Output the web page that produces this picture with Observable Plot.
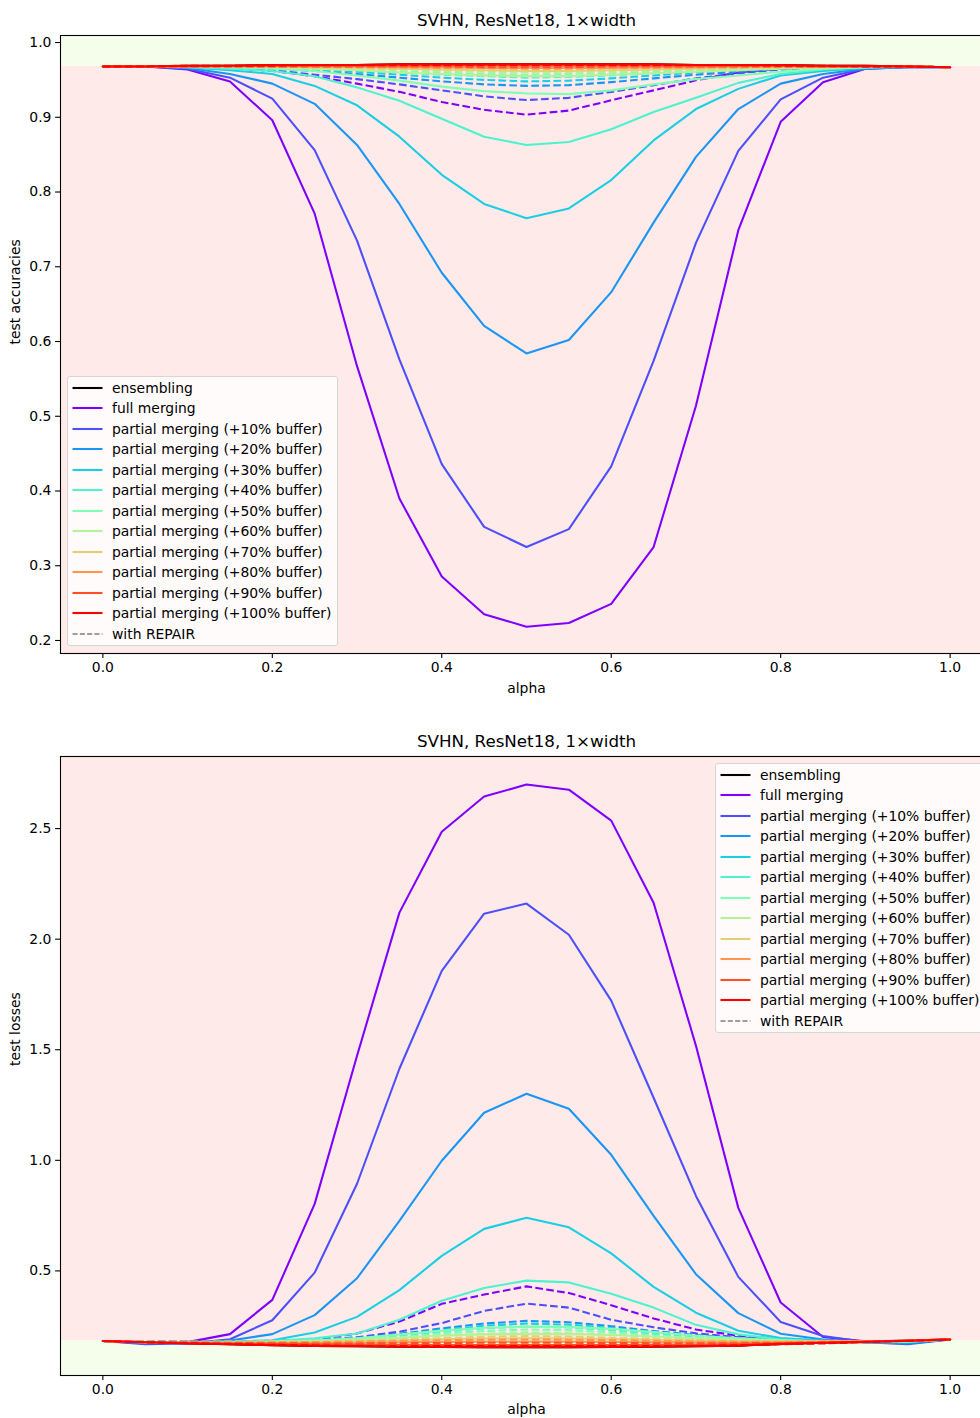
<!DOCTYPE html>
<html>
<head>
<meta charset="utf-8">
<script src="https://cdn.jsdelivr.net/npm/d3@7"></script>
<script src="https://cdn.jsdelivr.net/npm/@observablehq/plot@0.6"></script>
<style>
  html, body { margin: 0; padding: 0; background: #fff; overflow: hidden; }
  #page { position: relative; width: 980px; height: 1418px; overflow: hidden; font-family: "DejaVu Sans", sans-serif; }
  .panel { position: absolute; left: 0; width: 980px; height: 709px; }
  .legend { position: absolute; width: 271px; height: 270px; box-sizing: border-box;
            border: 1px solid #d6d6d6; border-radius: 3px; background: rgba(255,255,255,0.8); }
  .legend .row { position: absolute; left: 0; height: 20px; white-space: nowrap; font-size: 13.9px; color: #000; }
  .legend svg { position: absolute; left: 4px; top: 0; overflow: visible; }
  .legend .label { position: absolute; left: 44px; top: 0px; line-height: 20px; }
</style>
</head>
<body>
<div id="page"></div>
<script>
// interpolation coefficient between the two endpoint models
const alpha = [0, 0.05, 0.1, 0.15, 0.2, 0.25, 0.3, 0.35, 0.4, 0.45, 0.5, 0.55, 0.6, 0.65, 0.7, 0.75, 0.8, 0.85, 0.9, 0.95, 1.0];
const alphaTicks = [0, 0.2, 0.4, 0.6, 0.8, 1.0];
const accTicks = [0.2, 0.3, 0.4, 0.5, 0.6, 0.7, 0.8, 0.9, 1.0];
const lossTicks = [0.5, 1.0, 1.5, 2.0, 2.5];

const methodNames = ["full merging", "partial merging (+10% buffer)", "partial merging (+20% buffer)",
  "partial merging (+30% buffer)", "partial merging (+40% buffer)", "partial merging (+50% buffer)",
  "partial merging (+60% buffer)", "partial merging (+70% buffer)", "partial merging (+80% buffer)",
  "partial merging (+90% buffer)", "partial merging (+100% buffer)"];
// matplotlib "rainbow" colormap sampled at 11 evenly spaced points
const methodColors = ["#8000ff", "#4d4ffc", "#1a96f2", "#1acee3", "#4df2ce", "#80ffb4",
  "#b3f296", "#e6ce74", "#ff964f", "#ff4f28", "#ff0000"];

// endpoint-model level used for the shaded bands
const accEndpoint = 0.968;
const lossEndpoint = 0.185;

// ---- test accuracies ----
const accEnsembling = [0.968,0.968,0.969,0.969,0.970,0.970,0.970,0.971,0.971,0.971,0.971,0.971,0.971,0.971,0.970,0.970,0.970,0.969,0.969,0.968,0.967];
const accFull   = [0.968,0.968,0.964,0.948,0.896,0.771,0.567,0.390,0.2855,0.235,0.2185,0.2235,0.249,0.325,0.514,0.749,0.894,0.947,0.965,0.967,0.967];
const accBuf10  = [0.968,0.968,0.965,0.953,0.925,0.856,0.735,0.576,0.436,0.352,0.325,0.349,0.433,0.574,0.732,0.855,0.924,0.953,0.965,0.967,0.967];
const accBuf20  = [0.968,0.968,0.966,0.958,0.945,0.918,0.863,0.784,0.692,0.621,0.584,0.602,0.666,0.759,0.847,0.911,0.945,0.958,0.965,0.968,0.967];
const accBuf30  = [0.968,0.968,0.967,0.963,0.958,0.942,0.916,0.874,0.823,0.784,0.765,0.778,0.816,0.869,0.911,0.938,0.956,0.962,0.966,0.967,0.967];
const accBuf40  = [0.968,0.968,0.967,0.965,0.962,0.955,0.940,0.922,0.898,0.874,0.863,0.867,0.884,0.907,0.926,0.946,0.958,0.964,0.967,0.968,0.967];
const accBuf50  = [0.968,0.968,0.968,0.967,0.965,0.962,0.956,0.949,0.941,0.935,0.932,0.931,0.936,0.944,0.951,0.956,0.961,0.965,0.967,0.968,0.967];
const accBuf60  = [0.968,0.968,0.968,0.968,0.967,0.965,0.963,0.960,0.958,0.956,0.955,0.955,0.957,0.959,0.961,0.963,0.965,0.966,0.967,0.968,0.967];
const accBuf70  = [0.968,0.968,0.968,0.968,0.968,0.967,0.966,0.965,0.964,0.963,0.962,0.962,0.963,0.964,0.965,0.966,0.967,0.967,0.968,0.968,0.967];
const accBuf80  = [0.968,0.968,0.968,0.968,0.968,0.968,0.968,0.967,0.967,0.966,0.966,0.966,0.966,0.967,0.967,0.968,0.968,0.968,0.968,0.968,0.967];
const accBuf90  = [0.968,0.968,0.968,0.969,0.969,0.969,0.969,0.969,0.969,0.969,0.969,0.969,0.969,0.969,0.969,0.969,0.969,0.968,0.968,0.968,0.967];
const accBuf100 = [0.968,0.968,0.969,0.969,0.970,0.970,0.970,0.971,0.971,0.971,0.971,0.971,0.971,0.971,0.970,0.970,0.970,0.969,0.969,0.968,0.967];

const accFullRepair   = [0.968,0.968,0.967,0.966,0.962,0.955,0.945,0.934,0.9205,0.910,0.9035,0.909,0.9227,0.936,0.9495,0.960,0.965,0.967,0.968,0.968,0.967];
const accBuf10Repair  = [0.968,0.968,0.967,0.966,0.963,0.957,0.951,0.944,0.936,0.928,0.923,0.926,0.934,0.943,0.952,0.959,0.964,0.966,0.967,0.968,0.967];
const accBuf20Repair  = [0.968,0.968,0.968,0.967,0.965,0.962,0.958,0.953,0.948,0.944,0.942,0.943,0.947,0.952,0.957,0.961,0.965,0.967,0.968,0.968,0.967];
const accBuf30Repair  = [0.968,0.968,0.968,0.967,0.966,0.964,0.961,0.957,0.953,0.950,0.948,0.949,0.952,0.956,0.960,0.963,0.966,0.967,0.968,0.968,0.967];
const accBuf40Repair  = [0.968,0.968,0.968,0.967,0.966,0.965,0.963,0.960,0.957,0.955,0.953,0.954,0.956,0.959,0.962,0.965,0.966,0.967,0.968,0.968,0.967];
const accBuf50Repair  = [0.968,0.968,0.968,0.968,0.967,0.966,0.964,0.962,0.960,0.958,0.957,0.958,0.959,0.961,0.963,0.965,0.967,0.967,0.968,0.968,0.967];
const accBuf60Repair  = [0.968,0.968,0.968,0.968,0.967,0.966,0.965,0.964,0.962,0.961,0.960,0.960,0.961,0.963,0.964,0.966,0.967,0.968,0.968,0.968,0.967];
const accBuf70Repair  = [0.968,0.968,0.968,0.968,0.968,0.967,0.966,0.965,0.964,0.963,0.963,0.963,0.964,0.965,0.966,0.967,0.967,0.968,0.968,0.968,0.967];
const accBuf80Repair  = [0.968,0.968,0.968,0.968,0.968,0.968,0.967,0.967,0.966,0.966,0.965,0.965,0.966,0.966,0.967,0.967,0.968,0.968,0.968,0.968,0.967];
const accBuf90Repair  = [0.968,0.968,0.968,0.968,0.968,0.968,0.968,0.968,0.968,0.967,0.967,0.967,0.968,0.968,0.968,0.968,0.968,0.968,0.968,0.968,0.967];
const accBuf100Repair = [0.968,0.968,0.969,0.969,0.969,0.970,0.970,0.970,0.970,0.970,0.970,0.970,0.970,0.970,0.970,0.970,0.969,0.969,0.968,0.968,0.967];

// ---- test losses ----
const lossEnsembling = [0.183,0.177,0.172,0.168,0.164,0.161,0.159,0.157,0.156,0.155,0.155,0.155,0.156,0.157,0.159,0.162,0.170,0.175,0.179,0.184,0.190];
const lossFull   = [0.183,0.172,0.178,0.214,0.369,0.803,1.473,2.120,2.486,2.645,2.699,2.676,2.536,2.165,1.518,0.785,0.357,0.201,0.182,0.175,0.190];
const lossBuf10  = [0.183,0.168,0.172,0.191,0.277,0.492,0.894,1.414,1.857,2.115,2.161,2.020,1.722,1.283,0.839,0.473,0.269,0.206,0.178,0.168,0.190];
const lossBuf20  = [0.183,0.174,0.176,0.185,0.214,0.300,0.467,0.726,0.998,1.215,1.301,1.233,1.025,0.749,0.485,0.309,0.216,0.190,0.176,0.172,0.190];
const lossBuf30  = [0.183,0.177,0.177,0.180,0.186,0.221,0.292,0.413,0.568,0.690,0.740,0.697,0.579,0.428,0.311,0.229,0.196,0.185,0.179,0.178,0.190];
const lossBuf40  = [0.183,0.178,0.177,0.178,0.183,0.195,0.217,0.279,0.365,0.423,0.456,0.448,0.397,0.334,0.256,0.213,0.190,0.180,0.178,0.180,0.190];
const lossBuf50  = [0.183,0.178,0.177,0.177,0.179,0.185,0.195,0.212,0.230,0.243,0.248,0.247,0.238,0.224,0.207,0.195,0.186,0.180,0.179,0.181,0.190];
const lossBuf60  = [0.183,0.178,0.177,0.177,0.178,0.181,0.188,0.198,0.208,0.213,0.215,0.214,0.210,0.203,0.195,0.188,0.183,0.180,0.180,0.182,0.190];
const lossBuf70  = [0.183,0.178,0.177,0.176,0.176,0.178,0.181,0.186,0.191,0.194,0.195,0.194,0.192,0.189,0.185,0.182,0.181,0.180,0.181,0.183,0.190];
const lossBuf80  = [0.183,0.178,0.176,0.175,0.174,0.174,0.175,0.177,0.179,0.180,0.180,0.180,0.179,0.178,0.177,0.177,0.178,0.179,0.181,0.184,0.190];
const lossBuf90  = [0.183,0.178,0.175,0.172,0.170,0.168,0.167,0.166,0.165,0.165,0.165,0.165,0.165,0.166,0.167,0.169,0.172,0.175,0.179,0.184,0.190];
const lossBuf100 = [0.183,0.177,0.172,0.168,0.164,0.161,0.159,0.157,0.156,0.155,0.155,0.155,0.156,0.157,0.159,0.162,0.170,0.175,0.179,0.184,0.190];

const lossFullRepair   = [0.183,0.180,0.180,0.181,0.183,0.190,0.217,0.271,0.351,0.393,0.430,0.400,0.345,0.285,0.235,0.207,0.192,0.185,0.182,0.184,0.190];
const lossBuf10Repair  = [0.183,0.179,0.179,0.180,0.182,0.188,0.200,0.225,0.264,0.319,0.352,0.334,0.279,0.245,0.218,0.200,0.190,0.184,0.182,0.184,0.190];
const lossBuf20Repair  = [0.183,0.179,0.179,0.180,0.182,0.187,0.197,0.215,0.240,0.262,0.274,0.268,0.250,0.228,0.210,0.196,0.188,0.184,0.182,0.184,0.190];
const lossBuf30Repair  = [0.183,0.179,0.179,0.180,0.182,0.186,0.195,0.210,0.232,0.252,0.262,0.257,0.242,0.222,0.205,0.194,0.187,0.183,0.182,0.184,0.190];
const lossBuf40Repair  = [0.183,0.179,0.179,0.180,0.181,0.185,0.192,0.205,0.224,0.240,0.248,0.244,0.232,0.215,0.200,0.191,0.186,0.183,0.182,0.184,0.190];
const lossBuf50Repair  = [0.183,0.179,0.179,0.179,0.181,0.184,0.190,0.200,0.215,0.228,0.235,0.232,0.222,0.208,0.196,0.189,0.185,0.182,0.182,0.184,0.190];
const lossBuf60Repair  = [0.183,0.179,0.178,0.179,0.180,0.182,0.187,0.195,0.206,0.216,0.222,0.219,0.212,0.201,0.192,0.186,0.183,0.182,0.182,0.184,0.190];
const lossBuf70Repair  = [0.183,0.179,0.178,0.178,0.179,0.180,0.183,0.189,0.196,0.202,0.205,0.203,0.198,0.192,0.187,0.183,0.181,0.181,0.182,0.184,0.190];
const lossBuf80Repair  = [0.183,0.178,0.177,0.177,0.177,0.178,0.180,0.183,0.186,0.189,0.190,0.189,0.187,0.184,0.181,0.180,0.179,0.180,0.181,0.184,0.190];
const lossBuf90Repair  = [0.183,0.178,0.176,0.174,0.173,0.172,0.172,0.173,0.174,0.175,0.175,0.175,0.174,0.173,0.173,0.173,0.174,0.177,0.180,0.184,0.190];
const lossBuf100Repair = [0.183,0.177,0.173,0.169,0.166,0.163,0.161,0.160,0.160,0.160,0.160,0.160,0.160,0.160,0.161,0.164,0.168,0.172,0.178,0.184,0.190];

const accSolid  = [accFull, accBuf10, accBuf20, accBuf30, accBuf40, accBuf50, accBuf60, accBuf70, accBuf80, accBuf90, accBuf100];
const accRepair = [accFullRepair, accBuf10Repair, accBuf20Repair, accBuf30Repair, accBuf40Repair, accBuf50Repair,
                   accBuf60Repair, accBuf70Repair, accBuf80Repair, accBuf90Repair, accBuf100Repair];
const lossSolid  = [lossFull, lossBuf10, lossBuf20, lossBuf30, lossBuf40, lossBuf50, lossBuf60, lossBuf70, lossBuf80, lossBuf90, lossBuf100];
const lossRepair = [lossFullRepair, lossBuf10Repair, lossBuf20Repair, lossBuf30Repair, lossBuf40Repair, lossBuf50Repair,
                    lossBuf60Repair, lossBuf70Repair, lossBuf80Repair, lossBuf90Repair, lossBuf100Repair];

const PINK = "rgb(255,234,234)";
const GREEN = "rgb(245,254,235)";
const LW = 2.08;            // 1.5pt line width
const DASH = "7.7,3.3";     // "--" pattern at 1.5pt

const page = document.getElementById("page");

function seriesLine(values, opts) {
  return Plot.line(values, {x: (d, i) => alpha[i], y: d => d, strokeWidth: LW, ...opts});
}

function drawPanel(cfg) {
  const marks = [
    Plot.frame({fill: cfg.frameFill, stroke: null}),
    Plot.rect([cfg.base], {y1: cfg.yDomain[0], y2: d => d, fill: cfg.bandFill}),
    seriesLine(cfg.ens, {stroke: "black"})
  ];
  for (let i = 0; i < methodNames.length; i++) {
    marks.push(seriesLine(cfg.solid[i], {stroke: methodColors[i]}));
    marks.push(seriesLine(cfg.repair[i], {stroke: methodColors[i], strokeDasharray: DASH, strokeLinecap: "butt"}));
  }
  marks.push(
    Plot.axisX({ticks: alphaTicks, tickFormat: d3.format(".1f"), tickSize: 4.9, tickPadding: 4.2, strokeWidth: 1.1, label: null}),
    Plot.axisY({ticks: cfg.yTicks, tickFormat: d3.format(".1f"), tickSize: 4.9, tickPadding: 4.2, strokeWidth: 1.1, label: null}),
    Plot.text(["alpha"], {text: d => d, frameAnchor: "bottom", dy: cfg.xLabelDy, fontSize: 13.9}),
    Plot.text([cfg.yLabel], {text: d => d, frameAnchor: "left", dx: -45, rotate: -90, fontSize: 13.9}),
    Plot.text(["SVHN, ResNet18, 1×width"], {text: d => d, frameAnchor: "top", dy: -21, fontSize: 16.7}),
    Plot.frame({stroke: "black", strokeWidth: 1.1})
  );
  const chart = Plot.plot({
    width: 980, height: 709,
    marginLeft: 60, marginRight: -12, marginTop: cfg.marginTop, marginBottom: cfg.marginBottom,
    x: {domain: [-0.05, 1.05]},
    y: {domain: cfg.yDomain},
    style: {fontFamily: "DejaVu Sans", fontSize: "13.9px", color: "black", background: "transparent"},
    marks
  });
  const holder = document.createElement("div");
  holder.className = "panel";
  holder.style.top = cfg.top + "px";
  holder.appendChild(chart);
  holder.appendChild(makeLegend(cfg.legendLeft, cfg.legendTop));
  page.appendChild(holder);
}

function makeLegend(left, top) {
  const box = document.createElement("div");
  box.className = "legend";
  box.style.left = left + "px";
  box.style.top = top + "px";
  const entries = [{name: "ensembling", color: "black", width: LW, dash: null}]
    .concat(methodNames.map((n, i) => ({name: n, color: methodColors[i], width: LW, dash: null})))
    .concat([{name: "with REPAIR", color: "gray", width: 1.4, dash: "5.1,2.2"}]);
  entries.forEach((e, i) => {
    const row = document.createElement("div");
    row.className = "row";
    row.style.top = (0.8 + i * 20.5) + "px";
    row.style.width = "300px";
    row.innerHTML =
      `<svg width="32" height="20"><line x1="0.5" x2="30.5" y1="10" y2="10" stroke="${e.color}" stroke-width="${e.width}"` +
      (e.dash ? ` stroke-dasharray="${e.dash}"` : "") + `></line></svg><span class="label">${e.name}</span>`;
    box.appendChild(row);
  });
  return box;
}

drawPanel({
  top: 0, marginTop: 35, marginBottom: 56, xLabelDy: 39,
  yDomain: [0.1826, 1.0094], yTicks: accTicks, yLabel: "test accuracies",
  frameFill: GREEN, bandFill: PINK, base: accEndpoint,
  ens: accEnsembling, solid: accSolid, repair: accRepair,
  legendLeft: 67, legendTop: 376
});

drawPanel({
  top: 709, marginTop: 47, marginBottom: 43, xLabelDy: 38,
  yDomain: [0.027, 2.826], yTicks: lossTicks, yLabel: "test losses",
  frameFill: PINK, bandFill: GREEN, base: lossEndpoint,
  ens: lossEnsembling, solid: lossSolid, repair: lossRepair,
  legendLeft: 715, legendTop: 54
});
</script>
</body>
</html>
